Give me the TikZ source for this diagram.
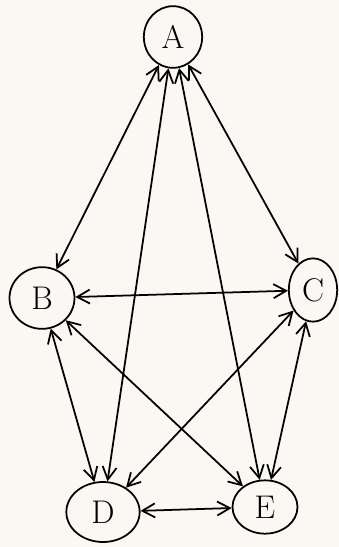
\documentclass[tikz,border=0pt]{standalone}
\usepackage{fontspec}
\usetikzlibrary{shapes.geometric,arrows.meta}
\definecolor{paper}{HTML}{FBF7F3}
\begin{document}
\begin{tikzpicture}[x=0.03cm,y=-0.03cm,
  vtx/.style={draw,ellipse,line width=1.5pt,inner sep=0pt,font=\fontsize{28}{28}\selectfont},
  edge/.style={line width=1.5pt,{Straight Barb[length=3.8mm,width=4.2mm]}-{Straight Barb[length=3.8mm,width=4.2mm]}}]
\fill[paper] (0,0) rectangle (339,547);
\useasboundingbox (0,0) rectangle (339,547);
\node[vtx,minimum width=1.75cm,minimum height=1.85cm] (A) at (173,37) {A};
\node[vtx,minimum width=1.95cm,minimum height=1.85cm] (B) at (42,298) {B};
\node[vtx,minimum width=1.45cm,minimum height=1.9cm] (C) at (313,290) {C};
\node[vtx,minimum width=2.2cm,minimum height=1.8cm] (D) at (103,512) {D};
\node[vtx,minimum width=1.95cm,minimum height=1.6cm] (E) at (265,507) {E};
\draw[edge] (A) -- (B);
\draw[edge] (A) -- (C);
\draw[edge] (A) -- (D);
\draw[edge] (A) -- (E);
\draw[edge] (B) -- (C);
\draw[edge] (B) -- (D);
\draw[edge] (B) -- (E);
\draw[edge] (C) -- (D);
\draw[edge] (C) -- (E);
\draw[edge] (D) -- (E);
\end{tikzpicture}
\end{document}
